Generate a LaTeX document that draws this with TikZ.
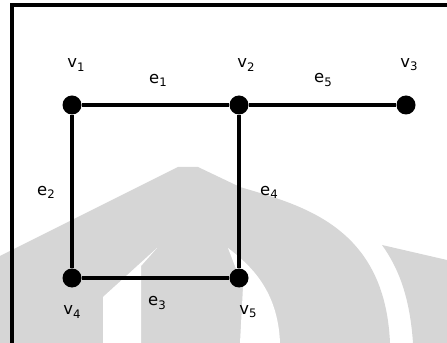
\documentclass[tikz,border=0pt]{standalone}
\usepackage{fontspec}
\setmainfont{DejaVu Sans}
\newcommand{\vlab}[2]{#1\raisebox{-0.35ex}{\fontsize{10}{11}\selectfont #2}}

\begin{document}
\begin{tikzpicture}[x=0.03cm, y=-0.03cm,
    vertex/.style={circle, fill=black, inner sep=0pt, minimum size=0.57cm},
    edge/.style={line width=4pt},
    lbl/.style={font=\fontsize{14}{16}\selectfont, inner sep=0pt}]
    \useasboundingbox (0,0) rectangle (447,343);

    % faint logo behind the graph
    \fill[black!16] (0,256) -- (178,167) -- (198,167) -- (240,187)
        .. controls (300,205) and (385,225) .. (390,343) -- (0,343) -- cycle;
    \fill[white] (157,248) -- (141,266) -- (141,343) -- (103,343) -- (103,297) -- cycle;
    \fill[white] (228,248) .. controls (250,265) and (278,290) .. (280,343)
        -- (240,343) -- (243,287) -- cycle;
    \fill[black!16] (382,245) -- (447,260) -- (447,343) -- (413,343)
        .. controls (410,300) and (400,270) .. (382,245) -- cycle;

    % frame
    \draw[line width=4pt] (12,343) -- (12,5) -- (447,5);

    \node[vertex] (v1) at (72,105) {};
    \node[vertex] (v2) at (239,105) {};
    \node[vertex] (v3) at (406,105) {};
    \node[vertex] (v4) at (72,278) {};
    \node[vertex] (v5) at (239,278) {};

    \draw[edge] (v1) -- (v2);
    \draw[edge] (v2) -- (v3);
    \draw[edge] (v1) -- (v4);
    \draw[edge] (v4) -- (v5);
    \draw[edge] (v2) -- (v5);

    \node[lbl] (lv1) at (76,65) {\vlab{v}{1}};
    \node[lbl] (lv2) at (246,65) {\vlab{v}{2}};
    \node[lbl] (lv3) at (409,65) {\vlab{v}{3}};
    \node[lbl] (lv4) at (72,312) {\vlab{v}{4}};
    \node[lbl] (lv5) at (248,312) {\vlab{v}{5}};
    \node[lbl] (le1) at (158,80) {\vlab{e}{1}};
    \node[lbl] (le2) at (46,192) {\vlab{e}{2}};
    \node[lbl] (le3) at (157,303) {\vlab{e}{3}};
    \node[lbl] (le4) at (269,192) {\vlab{e}{4}};
    \node[lbl] (le5) at (323,80) {\vlab{e}{5}};
\end{tikzpicture}
\end{document}
